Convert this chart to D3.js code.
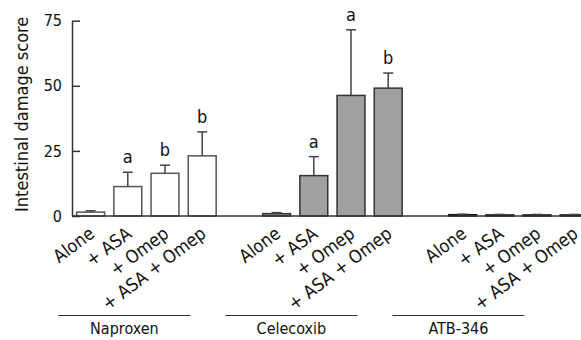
<!DOCTYPE html>
<html>
<head>
<meta charset="utf-8">
<script src="https://cdn.jsdelivr.net/npm/d3@7"></script>
<style>
  body { margin: 0; background: #fff; }
  svg { display: block; font-family: "DejaVu Sans Condensed", "DejaVu Sans", sans-serif; }
</style>
</head>
<body>
<div id="chart"></div>
<script>
// data
const groups = ["Naproxen", "Celecoxib", "ATB-346"];
const treatments = ["Alone", "+ ASA", "+ Omep", "+ ASA + Omep"];
const naproxenMean = [1.5, 11.3, 16.4, 23.1];
const naproxenErr = [0.5, 5.5, 3.1, 9.2];
const celecoxibMean = [0.9, 15.5, 46.3, 49.1];
const celecoxibErr = [0.4, 7.3, 25.2, 5.8];
const atbMean = [0.5, 0.4, 0.4, 0.4];
const atbErr = [0.2, 0.2, 0.2, 0.2];
const naproxenSig = ["", "a", "b", "b"];
const celecoxibSig = ["", "a", "a", "b"];
const atbSig = ["", "", "", ""];
const yTicks = [0, 25, 50, 75];

const config = {
  width: 581, height: 340,
  margin: { left: 72, top: 20.7, bottom: 216 },
  step: 37.2,
  fills: ["#ffffff", "#a0a0a0", "#111111"],
  strokes: ["#555555", "#333333", "#111111"]
};

const means = [naproxenMean, celecoxibMean, atbMean];
const errs = [naproxenErr, celecoxibErr, atbErr];
const sigs = [naproxenSig, celecoxibSig, atbSig];

// one slot per bar, with an empty slot between groups
const slots = [];
const rows = [];
groups.forEach((g, gi) => {
  treatments.forEach((t, ti) => {
    const key = g + "|" + t;
    slots.push(key);
    rows.push({ key, group: gi, label: t, value: means[gi][ti], err: errs[gi][ti], sig: sigs[gi][ti] });
  });
  if (gi < groups.length - 1) slots.push("gap" + gi);
});

const svg = d3.select("#chart").append("svg")
  .attr("width", config.width)
  .attr("height", config.height);

const x = d3.scaleBand()
  .domain(slots)
  .range([config.margin.left, config.margin.left + slots.length * config.step])
  .paddingInner(0.25)
  .paddingOuter(0.125);

const y = d3.scaleLinear()
  .domain([0, 75])
  .range([config.margin.bottom, config.margin.top]);

// bars
svg.append("g").selectAll("rect")
  .data(rows)
  .join("rect")
  .attr("x", d => x(d.key))
  .attr("y", d => y(d.value))
  .attr("width", x.bandwidth())
  .attr("height", d => y(0) - y(d.value))
  .attr("fill", d => config.fills[d.group])
  .attr("stroke", d => config.strokes[d.group])
  .attr("stroke-width", 1.5);

// error bars (upper half only)
const err = svg.append("g")
  .attr("stroke", "#444")
  .attr("stroke-width", 1.5);
err.selectAll(".stem")
  .data(rows)
  .join("line")
  .attr("class", "stem")
  .attr("x1", d => x(d.key) + x.bandwidth() / 2)
  .attr("x2", d => x(d.key) + x.bandwidth() / 2)
  .attr("y1", d => y(d.value))
  .attr("y2", d => y(d.value + d.err));
err.selectAll(".cap")
  .data(rows)
  .join("line")
  .attr("class", "cap")
  .attr("x1", d => x(d.key) + x.bandwidth() / 2 - 5)
  .attr("x2", d => x(d.key) + x.bandwidth() / 2 + 5)
  .attr("y1", d => y(d.value + d.err))
  .attr("y2", d => y(d.value + d.err));

// significance letters
svg.append("g").selectAll("text")
  .data(rows.filter(d => d.sig))
  .join("text")
  .attr("x", d => x(d.key) + x.bandwidth() / 2)
  .attr("y", d => y(d.value + d.err) - 9)
  .attr("text-anchor", "middle")
  .attr("font-size", 18)
  .attr("fill", "#111")
  .text(d => d.sig);

// axes
svg.append("line")
  .attr("x1", config.margin.left).attr("x2", config.width)
  .attr("y1", y(0)).attr("y2", y(0))
  .attr("stroke", "#333").attr("stroke-width", 1.5);

const yAxis = svg.append("g")
  .attr("transform", `translate(${config.margin.left},0)`)
  .call(d3.axisLeft(y).tickValues(yTicks).tickSizeInner(-8).tickSizeOuter(0).tickPadding(10));
yAxis.select(".domain").attr("stroke", "#333").attr("stroke-width", 1.5);
yAxis.selectAll(".tick line").attr("stroke", "#333").attr("stroke-width", 1.5);
yAxis.selectAll(".tick text")
  .attr("font-size", 16)
  .attr("font-family", "DejaVu Sans Condensed, DejaVu Sans, sans-serif")
  .attr("fill", "#111");

svg.append("text")
  .attr("transform", `translate(28,${(y(0) + y(75)) / 2 - 4}) rotate(-90)`)
  .attr("text-anchor", "middle")
  .attr("font-size", 18)
  .attr("fill", "#111")
  .text("Intestinal damage score");

// rotated category labels
svg.append("g").selectAll("text")
  .data(rows)
  .join("text")
  .attr("transform", d => `translate(${x(d.key) + x.bandwidth() / 2 + 5},${y(0) + 20}) rotate(-37)`)
  .attr("text-anchor", "end")
  .attr("font-size", 18)
  .attr("fill", "#111")
  .text(d => d.label);

// group lines and names
const groupG = svg.append("g").selectAll("g")
  .data(groups)
  .join("g")
  .attr("transform", (g, gi) => {
    const first = x(g + "|" + treatments[0]);
    const last = x(g + "|" + treatments[treatments.length - 1]) + x.bandwidth();
    return `translate(${(first + last) / 2 - 22 - 19 * gi},0)`;
  });
groupG.append("line")
  .attr("x1", -66).attr("x2", 66)
  .attr("y1", 315.5).attr("y2", 315.5)
  .attr("stroke", "#333").attr("stroke-width", 1);
groupG.append("text")
  .attr("y", 334)
  .attr("text-anchor", "middle")
  .attr("font-size", 16)
  .attr("fill", "#111")
  .text(d => d);
</script>
</body>
</html>
